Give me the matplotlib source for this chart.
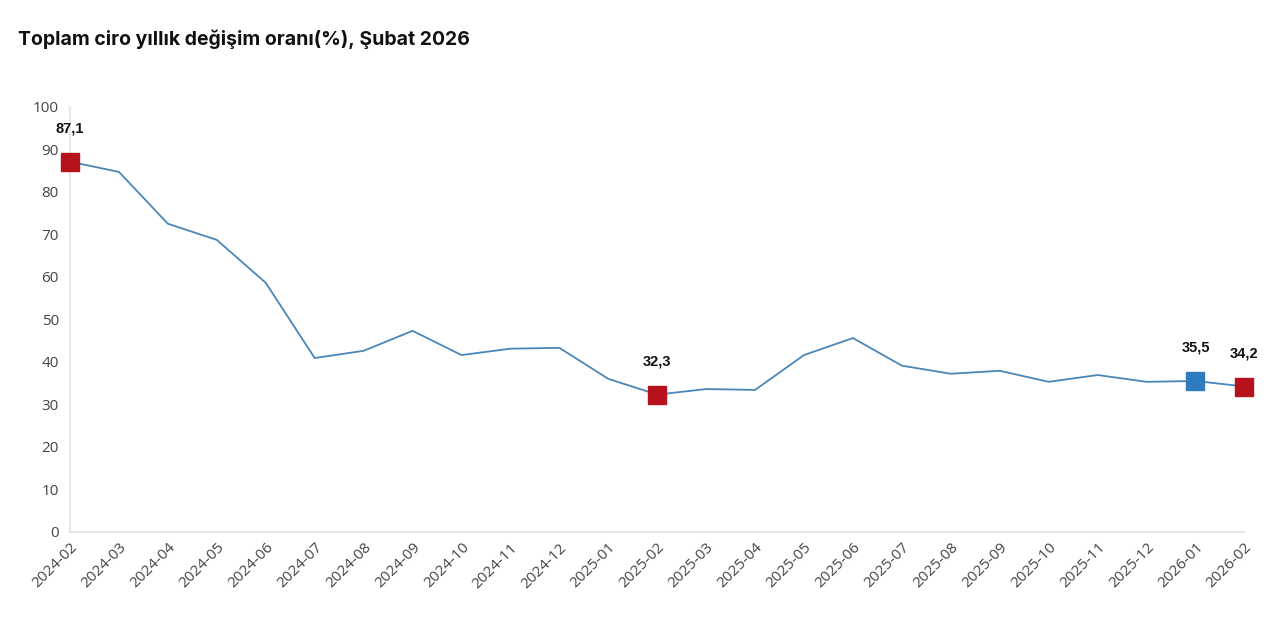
import matplotlib
matplotlib.use('Agg')
import matplotlib.pyplot as plt

months = ['2024-02', '2024-03', '2024-04', '2024-05', '2024-06', '2024-07',
          '2024-08', '2024-09', '2024-10', '2024-11', '2024-12', '2025-01',
          '2025-02', '2025-03', '2025-04', '2025-05', '2025-06', '2025-07',
          '2025-08', '2025-09', '2025-10', '2025-11', '2025-12', '2026-01',
          '2026-02']
values = [87.1, 84.7, 72.5, 68.7, 58.6, 40.9, 42.6, 47.3, 41.6, 43.1, 43.3,
          36.0, 32.3, 33.6, 33.4, 41.6, 45.6, 39.1, 37.2, 37.9, 35.3, 36.9,
          35.3, 35.5, 34.2]

# highlighted points: (index, colour)
highlights = [(0, '#b5121b'), (12, '#b5121b'), (23, '#2f7bbf'), (24, '#b5121b')]

fig = plt.figure(figsize=(12.8, 6.4), dpi=100)
ax = fig.add_axes([0.0547, 0.169, 0.9175, 0.664])

x = list(range(len(months)))
ax.plot(x, values, color='#4a86b8', lw=1.3, zorder=2)

for i, c in highlights:
    ax.plot(x[i], values[i], marker='s', ms=12.5, color=c, mec=c, zorder=3,
            clip_on=False)
    ax.annotate(f'{values[i]:.1f}'.replace('.', ','), (x[i], values[i]),
                xytext=(0, 24), textcoords='offset points', ha='center',
                va='center', fontsize=10.5, fontweight='bold', color='#111111',
                family='Liberation Sans')

ax.set_xlim(0, 24)
ax.set_ylim(0, 100)
ax.set_yticks(range(0, 101, 10))
ax.set_xticks(x)
ax.set_xticklabels(months, rotation=45, ha='right', rotation_mode='anchor',
                   fontsize=11, color='#444444', family='Open Sans')
for lbl in ax.get_yticklabels():
    lbl.set_fontsize(11)
    lbl.set_color('#444444')
    lbl.set_family('Open Sans')
ax.tick_params(length=0, pad=8)
ax.tick_params(axis='x', pad=6)

for s in ['top', 'right']:
    ax.spines[s].set_visible(False)
for s in ['left', 'bottom']:
    ax.spines[s].set_color('#e3e3e3')
    ax.spines[s].set_linewidth(1.2)

fig.text(0.014, 0.938, 'Toplam ciro yıllık değişim oranı(%), Şubat 2026',
         fontsize=14, fontweight='bold', color='#111111', family='Inter',
         va='center')

fig.savefig('out.png', dpi=100, facecolor='white')
